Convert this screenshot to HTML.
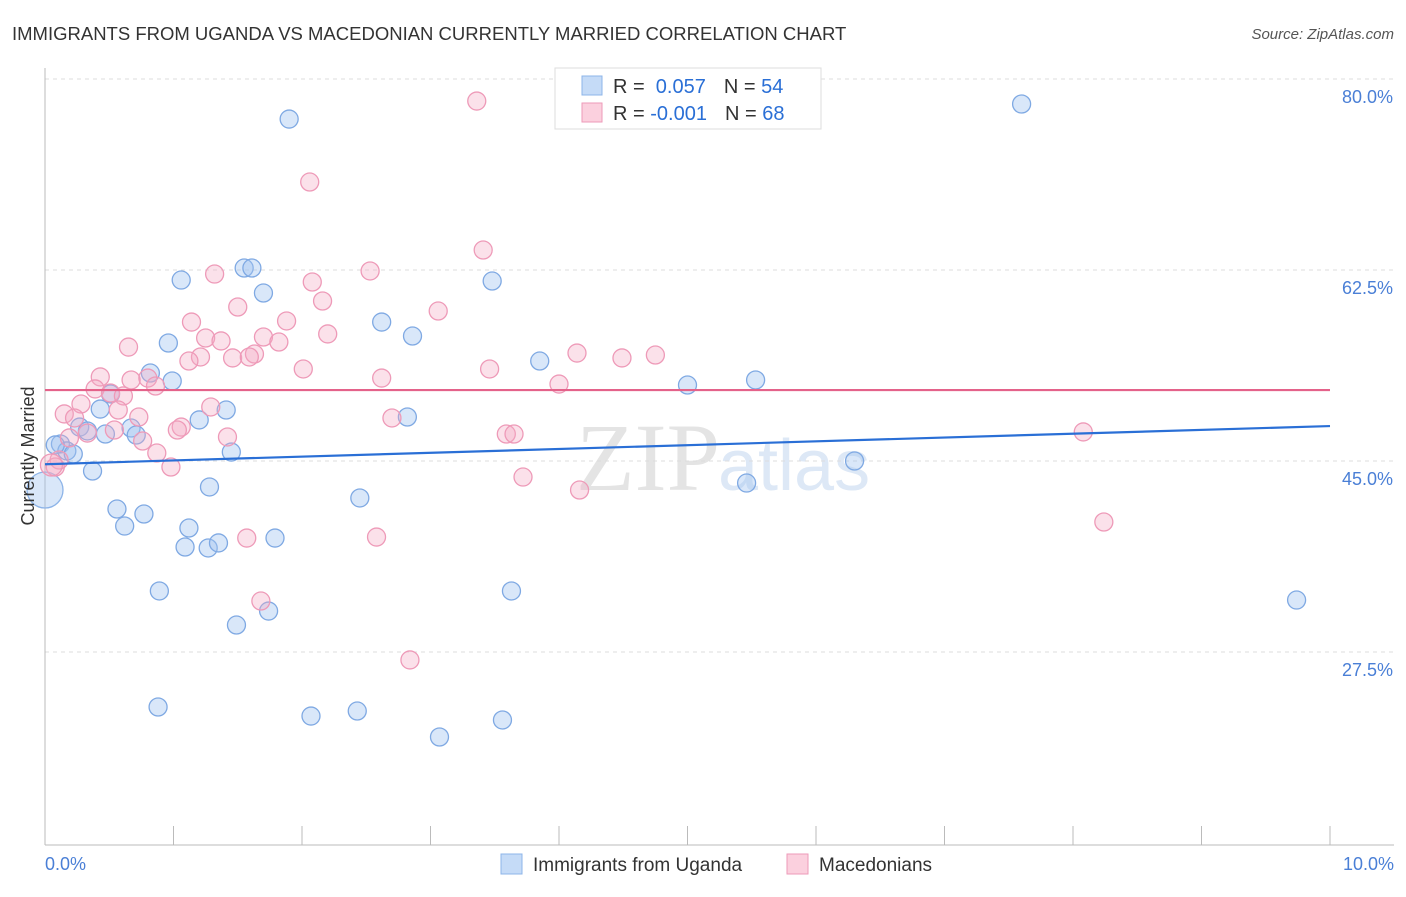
<!DOCTYPE html>
<html><head><meta charset="utf-8"><style>
body{margin:0;background:#fff;font-family:"Liberation Sans",sans-serif}
</style></head><body>
<svg id="c" width="1406" height="892" xmlns="http://www.w3.org/2000/svg">
<text x="12" y="40" font-size="18.5" fill="#333">IMMIGRANTS FROM UGANDA VS MACEDONIAN CURRENTLY MARRIED CORRELATION CHART</text>
<text x="1394" y="39" font-size="15" fill="#555" font-style="italic" text-anchor="end">Source: ZipAtlas.com</text>
<text x="720" y="490" font-size="96" fill="#e4e4e4" text-anchor="end" font-family="Liberation Serif">ZIP</text>
<text x="718" y="490" font-size="72" fill="#dde8f6">atlas</text>
<g id="grid"></g><g id="pts"></g><g id="lines"></g>
<text transform="translate(34,456) rotate(-90)" font-size="18" fill="#333" text-anchor="middle">Currently Married</text>
<text x="45" y="870" font-size="18" fill="#4a7fd6">0.0%</text>
<text x="1394" y="870" font-size="18" fill="#4a7fd6" text-anchor="end">10.0%</text>
<g>
<rect x="555" y="68" width="266" height="61" fill="#fff" stroke="#ddd"/>
<rect x="582" y="76" width="20" height="19" fill="#c5dbf7" stroke="#8db4e8"/>
<rect x="582" y="103" width="20" height="19" fill="#fbd0de" stroke="#ee9ab8"/>
<text x="613" y="93" font-size="20" fill="#333">R = <tspan fill="#2a6fd6">&#160;0.057</tspan><tspan dx="18">N = </tspan><tspan fill="#2a6fd6">54</tspan></text>
<text x="613" y="120" font-size="20" fill="#333">R = <tspan fill="#2a6fd6">-0.001</tspan><tspan dx="18">N = </tspan><tspan fill="#2a6fd6">68</tspan></text>
</g>
<g>
<rect x="501" y="854" width="21" height="20" fill="#c5dbf7" stroke="#8db4e8"/>
<text x="533" y="871" font-size="19" fill="#333">Immigrants from Uganda</text>
<rect x="787" y="854" width="21" height="20" fill="#fbd0de" stroke="#ee9ab8"/>
<text x="819" y="871" font-size="19" fill="#333">Macedonians</text>
</g>
</svg>
<script>
const yTicks=[80,62.5,45,27.5];
const xTicks=[0,1,2,3,4,5,6,7,8,9,10];
const blueX=[1.90,7.60,1.06,1.55,1.61,1.70,3.48,2.62,2.86,0.96,3.85,0.82,0.99,5.00,5.53,0.51,0.43,1.41,1.20,2.82,0.27,0.33,0.47,0.67,0.71,0.12,0.17,0.22,1.45,0.37,6.30,5.46,1.28,2.45,0.56,0.77,0.62,1.12,1.09,1.27,1.35,1.79,0.89,3.63,9.74,1.49,1.74,0.88,2.07,2.43,3.56,3.07,0.08];
const blueY=[76.33,77.71,61.58,62.68,62.68,60.39,61.49,57.73,56.45,55.81,54.16,53.06,52.33,51.96,52.42,51.14,49.76,49.67,48.76,49.03,48.11,47.75,47.47,48.02,47.38,46.56,45.92,45.64,45.82,44.08,45.0,42.98,42.62,41.61,40.6,40.14,39.04,38.86,37.12,37.03,37.49,37.94,33.09,33.09,32.26,29.97,31.25,22.46,21.63,22.09,21.27,19.71,46.47];
const blueR=[9,9,9,9,9,9,9,9,9,9,9,9,9,9,9,9,9,9,9,9,9,9,9,9,9,9,9,9,9,9,9,9,9,9,9,9,9,9,9,9,9,9,9,9,9,9,9,9,9,9,9,9,9];
const pinkX=[3.36,2.06,3.41,1.32,2.53,2.08,2.16,1.50,3.06,1.14,1.88,1.25,1.37,2.20,1.70,1.82,0.65,1.21,1.12,1.46,1.63,1.59,4.14,4.49,4.75,2.01,3.46,0.80,0.67,0.43,0.39,0.86,2.62,4.00,0.51,0.61,0.28,1.29,0.57,0.15,0.23,0.73,2.70,1.06,1.03,0.54,0.33,1.42,3.59,3.65,8.08,0.76,0.19,0.87,0.11,0.08,0.98,3.72,4.16,8.24,1.57,2.58,1.68,2.84,0.05];
const pinkY=[77.98,70.56,64.33,62.13,62.41,61.40,59.66,59.11,58.74,57.73,57.83,56.27,56.00,56.64,56.36,55.90,55.44,54.53,54.16,54.44,54.80,54.53,54.89,54.44,54.71,53.43,53.43,52.60,52.42,52.70,51.60,51.87,52.60,52.05,51.23,50.96,50.22,49.95,49.67,49.31,48.94,49.03,48.94,48.11,47.84,47.84,47.56,47.20,47.47,47.47,47.66,46.83,47.11,45.73,45.09,44.45,44.45,43.53,42.34,39.41,37.94,38.03,32.17,26.77,44.63];
const pinkR=[9,9,9,9,9,9,9,9,9,9,9,9,9,9,9,9,9,9,9,9,9,9,9,9,9,9,9,9,9,9,9,9,9,9,9,9,9,9,9,9,9,9,9,9,9,9,9,9,9,9,9,9,9,9,9,9,9,9,9,9,9,9,9,9,11];
const bigBlue={x:0.0,y:42.34,r:18};
const blueLine=[44.7,48.2];
const pinkLine=[51.5,51.5];
const X=v=>45+v*128.5, Y=v=>79+(80-v)*10.914;
const NS="http://www.w3.org/2000/svg";
function mk(t,a,p){const e=document.createElementNS(NS,t);for(const k in a)e.setAttribute(k,a[k]);p.appendChild(e);return e;}
const g=document.getElementById('grid');
yTicks.forEach((t,i)=>{
 const l=mk('line',{x1:45,x2:1394,y1:Y(t),y2:Y(t),stroke:'#ddd','stroke-dasharray':'4,4'},g);
 
 
 const tx=mk('text',{x:1393,y:Y(t)+24,'font-size':18,fill:'#4a7fd6','text-anchor':'end'},g);
 tx.textContent=t.toFixed(1)+'%';
 
 
});
const ax=mk('line',{x1:45,x2:45,y1:68,y2:845,stroke:'#bbb'},g);


const bx=mk('line',{x1:45,x2:1394,y1:845,y2:845,stroke:'#bbb'},g);


xTicks.forEach(t=>{
 const l=mk('line',{x1:X(t),x2:X(t),y1:826,y2:845,stroke:'#bbb'},g);
 
 
});
const p=document.getElementById('pts');
const bb=mk('circle',{cx:X(bigBlue.x),cy:Y(bigBlue.y),r:bigBlue.r,fill:'rgba(160,196,240,0.4)',stroke:'#8db4e8','stroke-width':1.3},p);


blueX.forEach((v,i)=>{
 const c=mk('circle',{cx:X(v),cy:Y(blueY[i]),r:blueR[i],fill:'rgba(160,196,240,0.4)',stroke:'#7fa9e3','stroke-width':1.3},p);
 
 
});
pinkX.forEach((v,i)=>{
 const c=mk('circle',{cx:X(v),cy:Y(pinkY[i]),r:pinkR[i],fill:'rgba(244,170,196,0.35)',stroke:'#ee9ab8','stroke-width':1.3},p);
 
 
});
const L=document.getElementById('lines');
const l1=mk('line',{x1:X(0),x2:X(10),y1:Y(blueLine[0]),y2:Y(blueLine[1]),stroke:'#2a6fd6','stroke-width':2.2},L);


const l2=mk('line',{x1:X(0),x2:X(10),y1:Y(pinkLine[0]),y2:Y(pinkLine[1]),stroke:'#e4628a','stroke-width':2.2},L);


</script>
</body></html>
